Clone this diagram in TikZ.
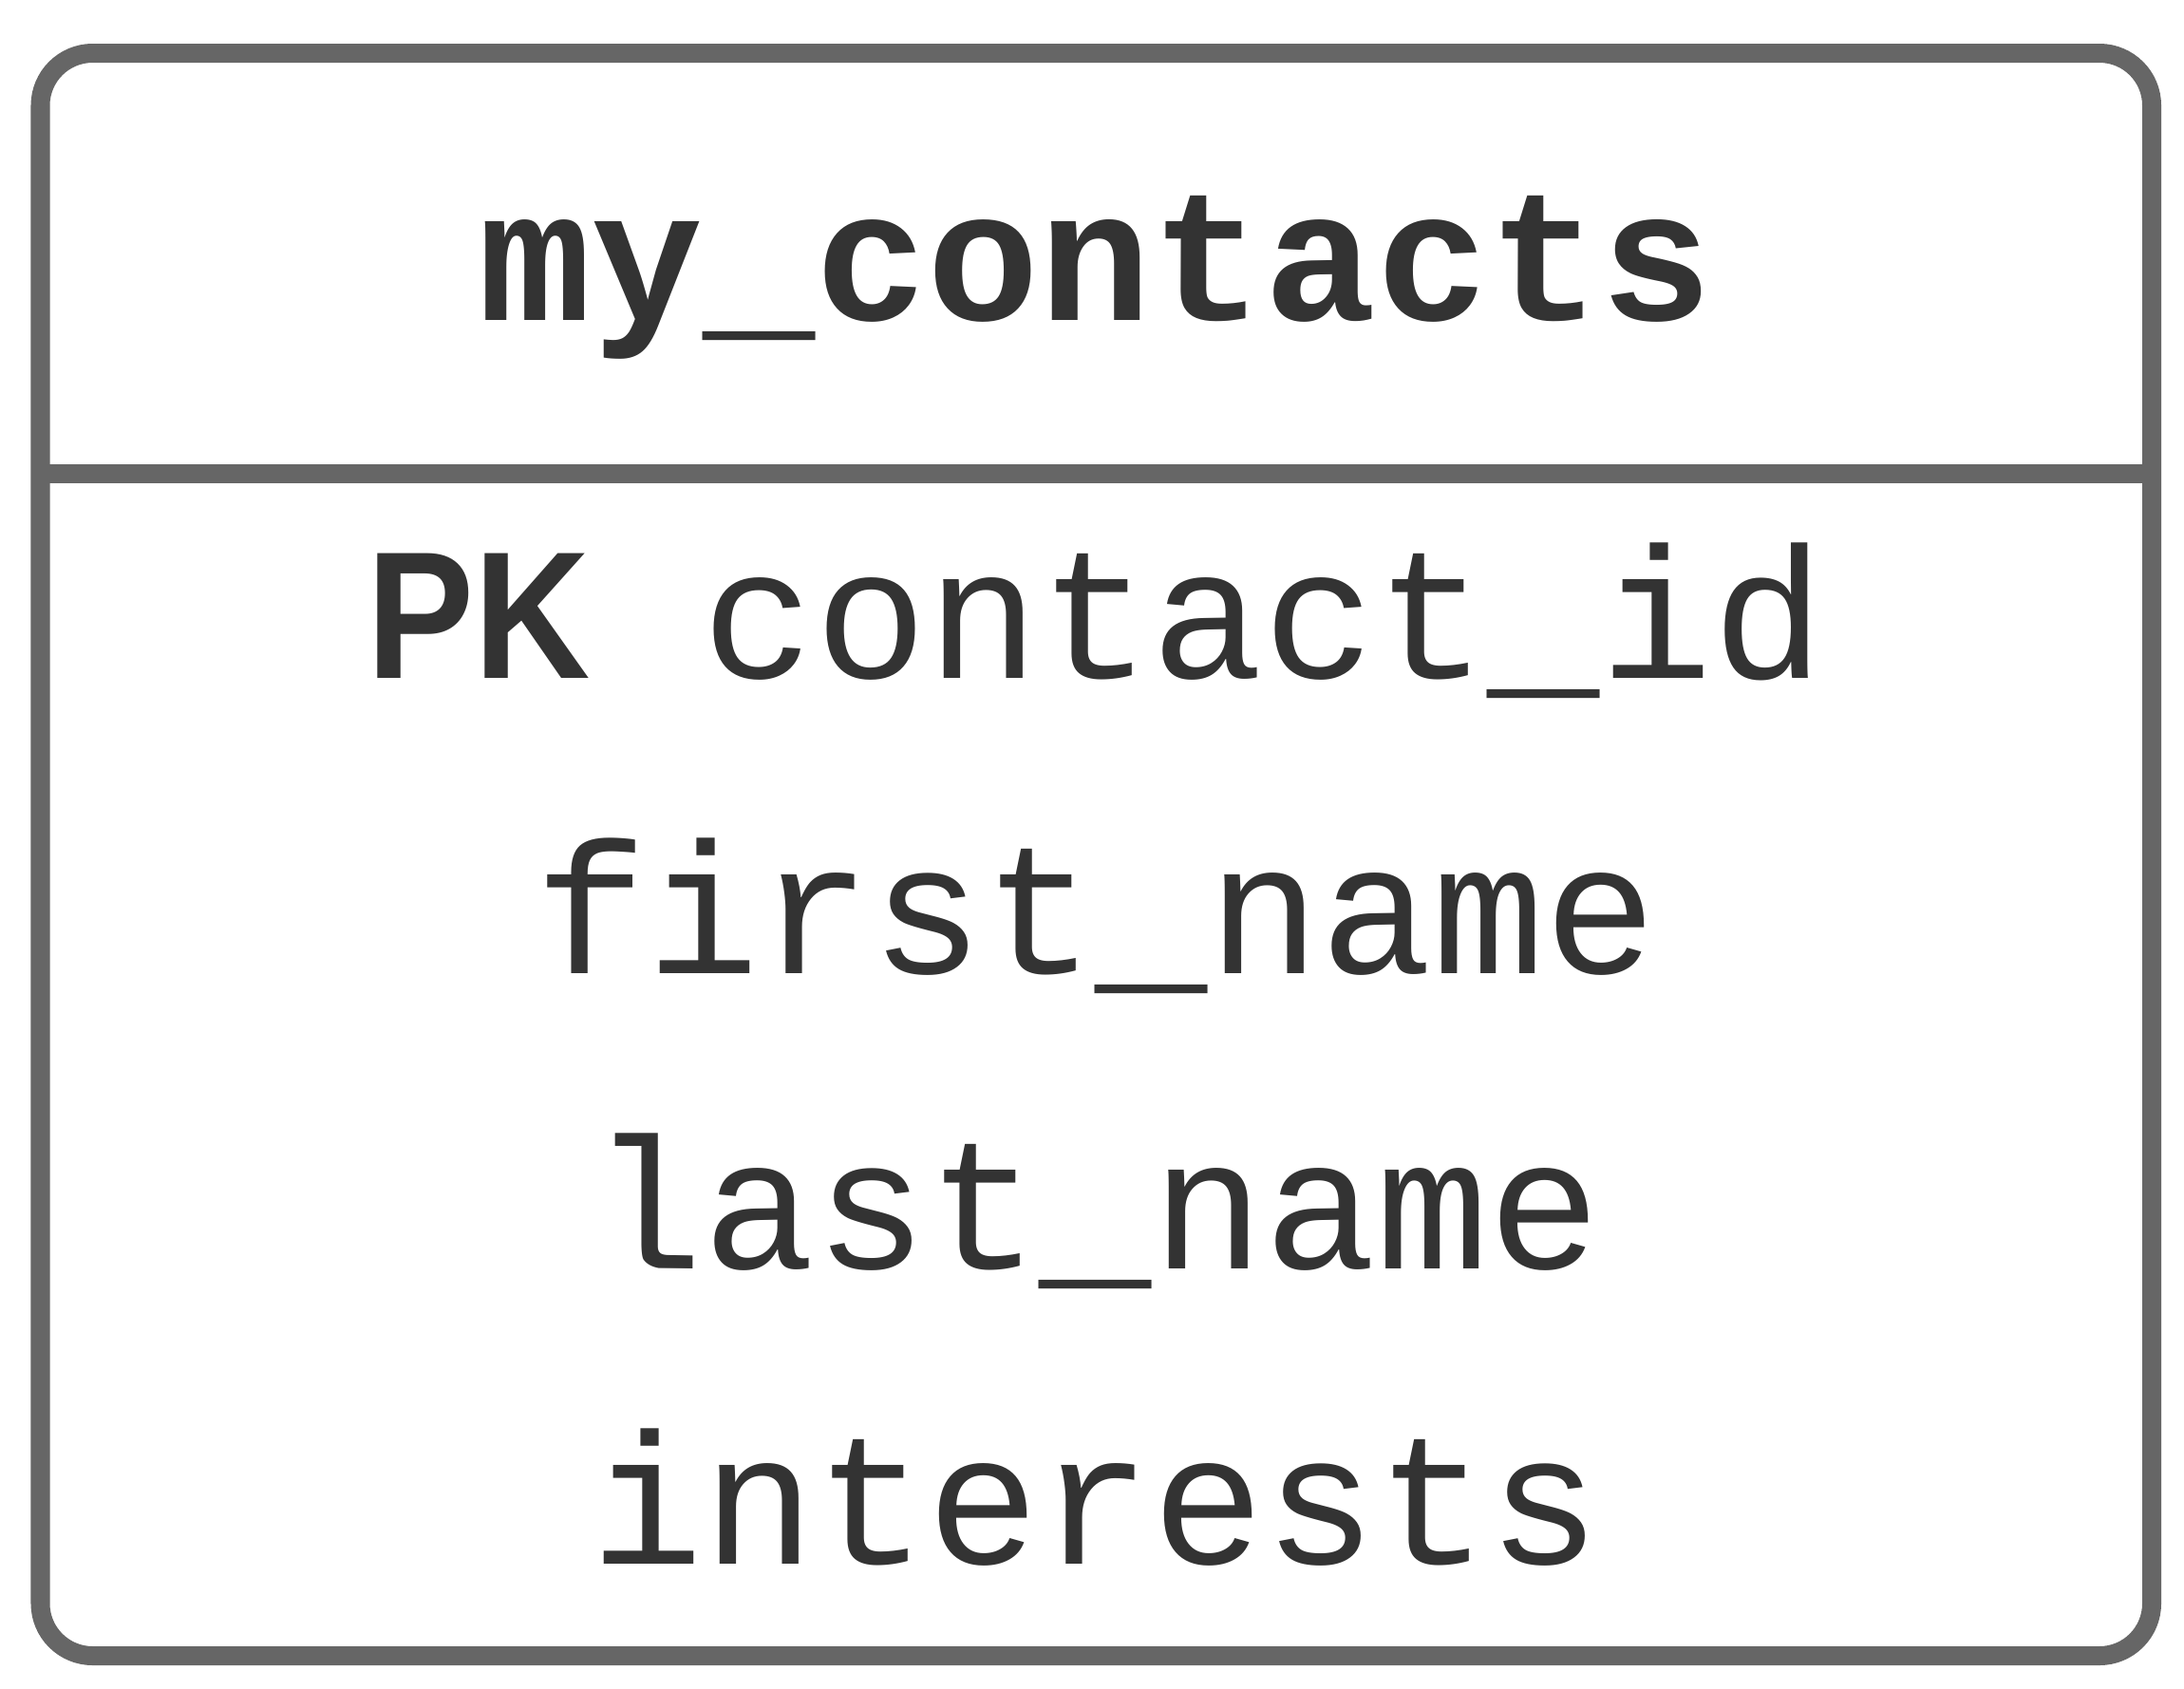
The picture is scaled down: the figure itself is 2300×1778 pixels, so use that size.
\documentclass[tikz,border=0pt]{standalone}
\usepackage{graphicx}
\usepackage{fontspec}
\setmonofont{Liberation Mono}
\setsansfont{Liberation Sans}
\definecolor{strokegray}{HTML}{666666}
\definecolor{textgray}{HTML}{333333}
\begin{document}
\begin{tikzpicture}[x=0.01cm,y=-0.01cm,
  boxline/.style={draw=strokegray,line width=0.2cm},
  rowtext/.style={anchor=base,inner sep=0pt,text=textgray,font=\fontsize{56}{60}\selectfont\ttfamily},
  headtext/.style={rowtext,font=\fontsize{56}{60}\selectfont\ttfamily\bfseries}]
\useasboundingbox (0,0) rectangle (2300,1778);
\draw[boxline,rounded corners=0.55cm,fill=white] (42.5,56) rectangle (2266,1744);
\coordinate (sepL) at (42.5,499);
\coordinate (sepR) at (2266,499);
\draw[boxline] (sepL) -- (sepR);
\node[headtext] (title) at (1154,337) {my\_contacts};
\node[rowtext] (r1) at (1154,714) {\scalebox{0.86}[0.97]{\sffamily\bfseries PK} contact\_id};
\node[rowtext] (r2) at (1154,1025) {first\_name};
\node[rowtext] (r3) at (1154,1336) {last\_name};
\node[rowtext] (r4) at (1154,1647) {interests};
\end{tikzpicture}
\end{document}
